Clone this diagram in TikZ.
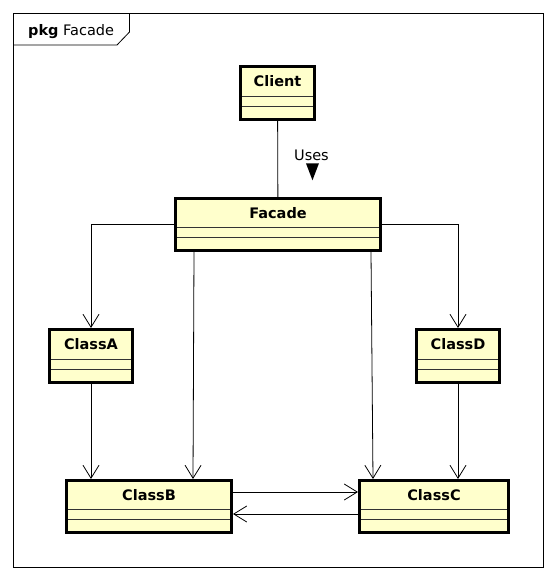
\documentclass[tikz,border=0pt]{standalone}
\usepackage{fontspec}
\setmainfont{DejaVu Sans}
\usepackage{xcolor}
\usetikzlibrary{arrows.meta,positioning}
\definecolor{clsfill}{RGB}{255,255,204}

\begin{document}
\begin{tikzpicture}[
  x=1pt, y=-1pt,
  font=\fontsize{14.5}{17}\selectfont,  % text size of the package frame
  cls/.style={draw, line width=3pt, fill=clsfill, font=\fontsize{14.5}{17}\selectfont\bfseries,
    inner ysep=0pt, text height=10pt, text depth=23pt, minimum height=53pt,
    path picture={
      \draw[line width=1pt, black!80] ([yshift=13pt]path picture bounding box.south west) -- ([yshift=13pt]path picture bounding box.south east);
      \draw[line width=1pt, black!80] ([yshift=23.5pt]path picture bounding box.south west) -- ([yshift=23.5pt]path picture bounding box.south east);
    }},
  arr/.style={-{Straight Barb[length=13pt, width=16pt]}, line width=0.8pt},
  lnk/.style={line width=0.8pt}
]
  \useasboundingbox (0,0) rectangle (557,581);

  % package frame
  \draw[line width=1pt] (13,13) rectangle (543.5,567);
  \draw[line width=0.8pt] (13,45) -- (117,45) -- (129.5,32) -- (129.5,13);
  \node[anchor=base west, inner sep=0pt] (pkg) at (28,35) {\textbf{pkg} Facade};

  \node[cls, minimum width=74pt] (client) at (277.5,93) {Client};
  \node[cls, minimum width=205pt, minimum height=52pt] (facade) at (278,224.5) {Facade};
  \node[cls, minimum width=83pt] (classA) at (91,356) {ClassA};
  \node[cls, minimum width=83pt] (classD) at (458,356) {ClassD};
  \node[cls, minimum width=165pt, minimum height=52pt] (classB) at (149,506.5) {ClassB};
  \node[cls, minimum width=149pt, minimum height=52pt] (classC) at (434,506.5) {ClassC};

  \draw[lnk] (client) -- node[right=16pt, yshift=3.5pt, inner sep=0pt] (uses) {Uses} (facade);
  \fill ([xshift=-5.5pt, yshift=-2pt]uses.south) -- ++(13,0) -- ++(-6.5,17) -- cycle;

  \draw[arr] (facade.west) -| (classA.north);
  \draw[arr] (facade.east) -| (classD.north);
  \draw[arr] ([xshift=-84pt]facade.south) -- ([xshift=44pt]classB.north);
  \draw[arr] ([xshift=93pt]facade.south) -- ([xshift=-61pt]classC.north);
  \draw[arr] (classA) -- (classA |- classB.north);
  \draw[arr] (classD) -- (classD |- classC.north);
  \draw[arr] ([yshift=14.5pt]classB.east) -- ([yshift=14.5pt]classC.west);
  \draw[arr] ([yshift=-7.5pt]classC.west) -- ([yshift=-7.5pt]classB.east);
\end{tikzpicture}
\end{document}
